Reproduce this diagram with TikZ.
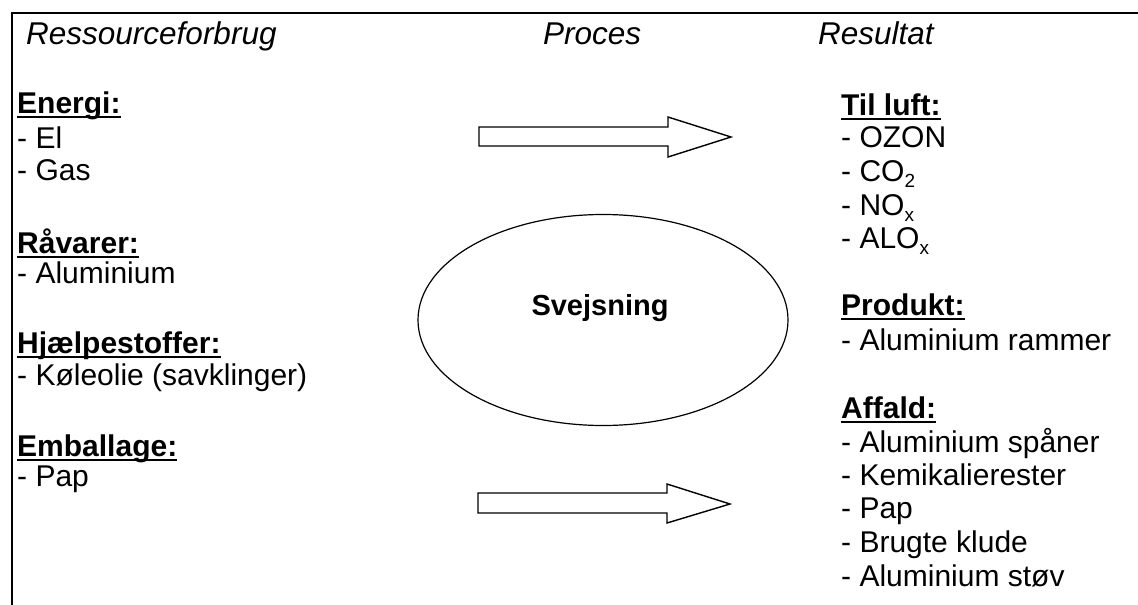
\documentclass[tikz,border=0pt]{standalone}
\usepackage{fontspec}
\setmainfont{Liberation Sans}
\usetikzlibrary{shapes.geometric}
\newcommand\myul[1]{\setbox0\hbox{#1}\rlap{\rule[-4.5pt]{\wd0}{1.6pt}}\box0}
\newcommand\mysub[1]{\raisebox{-6pt}{\fontsize{19}{20}\selectfont #1}}
\tikzset{
  txt/.style={anchor=base west, inner sep=0pt, font=\fontsize{30}{34}\selectfont},
  ttl/.style={txt, font=\fontsize{31.5}{34}\selectfont\itshape},
  hd/.style={txt, font=\fontsize{30}{34}\selectfont\bfseries},
  frame/.style={line width=1.4pt},
  blockarrow/.style={draw, line width=1.4pt, line join=miter},
}
\begin{document}
\begin{tikzpicture}[x=1pt,y=-1pt]
\useasboundingbox (0,0) rectangle (1138,605);
% frame
\draw[frame] (12,605) -- (12,13) -- (1138,13);
% titles
\node[ttl] (t1) at (26,44) {Ressourceforbrug};
\node[ttl] (t2) at (543,44) {Proces};
\node[ttl] (t3) at (818,44) {Resultat};
% left column
\node[hd]  (l1)  at (17,113) {\myul{Energi:}};
\node[txt] (l2)  at (17,148) {- El};
\node[txt] (l3)  at (17,180) {- Gas};
\node[hd]  (l4)  at (17,253) {\myul{Råvarer:}};
\node[txt] (l5)  at (17,283) {- Aluminium};
\node[hd]  (l6)  at (17,353) {\myul{Hjælpestoffer:}};
\node[txt] (l7)  at (17,385) {- Køleolie (savklinger)};
\node[hd]  (l8)  at (17,456) {\myul{Emballage:}};
\node[txt] (l9)  at (17,486) {- Pap};
% right column
\node[hd]  (r1)  at (841,115) {\myul{Til luft:}};
\node[txt] (r2)  at (841,147) {- OZON};
\node[txt] (r3)  at (841,181) {- CO\mysub{2}};
\node[txt] (r4)  at (841,215) {- NO\mysub{x}};
\node[txt] (r5)  at (841,248) {- ALO\mysub{x}};
\node[hd]  (r6)  at (841,315) {\myul{Produkt:}};
\node[txt] (r7)  at (841,350) {- Aluminium rammer};
\node[hd]  (r8)  at (841,418) {\myul{Affald:}};
\node[txt] (r9)  at (841,452) {- Aluminium spåner};
\node[txt] (r10) at (841,485) {- Kemikalierester};
\node[txt] (r11) at (841,518) {- Pap};
\node[txt] (r12) at (841,552) {- Brugte klude};
\node[txt] (r13) at (841,586) {- Aluminium støv};
% process ellipse
\node[ellipse, draw, line width=1.2pt, minimum width=370pt, minimum height=211pt, inner sep=0pt] (proc) at (603,320) {};
\node[anchor=base, inner sep=0pt, font=\fontsize{29}{34}\selectfont\bfseries] (svej) at (600,315) {Svejsning};
% block arrows
\draw[blockarrow] (479,127) -- (668,127) -- (668,117) -- (731,137) -- (668,157) -- (668,146) -- (479,146) -- cycle;
\draw[blockarrow] (478,493) -- (667,493) -- (667,484) -- (730,504) -- (667,523) -- (667,513) -- (478,513) -- cycle;
\end{tikzpicture}
\end{document}
